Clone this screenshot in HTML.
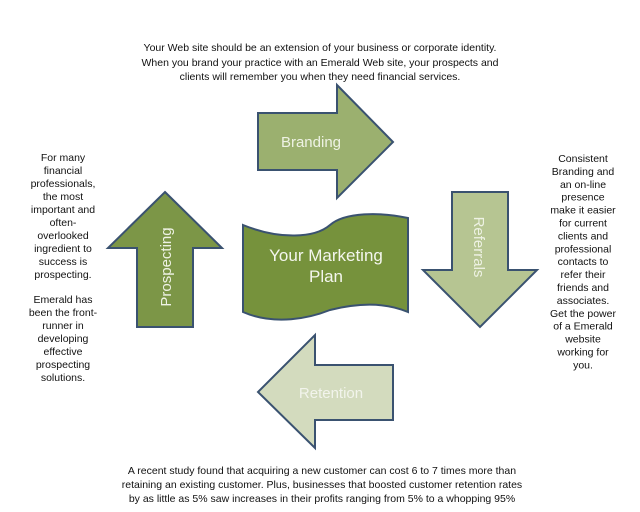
<!DOCTYPE html>
<html><head><meta charset="utf-8"><style>
html,body{margin:0;padding:0;background:#fff;}
svg{display:block;font-family:"Liberation Sans",Arial,sans-serif;}
</style></head><body>
<svg width="640" height="512" viewBox="0 0 640 512" xmlns="http://www.w3.org/2000/svg">
<g font-size="10.5" fill="#111" text-anchor="middle">
<text x="320" y="51">Your Web site should be an extension of your business or corporate identity.</text>
<text x="320" y="66">When you brand your practice with an Emerald Web site, your prospects and</text>
<text x="320" y="80">clients will remember you when they need financial services.</text>
</g>
<g font-size="10.5" fill="#111" text-anchor="middle">
<text x="63" y="161">For many</text>
<text x="63" y="174">financial</text>
<text x="63" y="187">professionals,</text>
<text x="63" y="200">the most</text>
<text x="63" y="213">important and</text>
<text x="63" y="226">often-</text>
<text x="63" y="239">overlooked</text>
<text x="63" y="252">ingredient to</text>
<text x="63" y="265">success is</text>
<text x="63" y="278">prospecting.</text>
<text x="63" y="303">Emerald has</text>
<text x="63" y="316">been the front-</text>
<text x="63" y="329">runner in</text>
<text x="63" y="342">developing</text>
<text x="63" y="355">effective</text>
<text x="63" y="368">prospecting</text>
<text x="63" y="381">solutions.</text>
</g>
<g font-size="10.5" fill="#111" text-anchor="middle">
<text x="583" y="162">Consistent</text>
<text x="583" y="174.9">Branding and</text>
<text x="583" y="187.8">an on-line</text>
<text x="583" y="200.7">presence</text>
<text x="583" y="213.6">make it easier</text>
<text x="583" y="226.5">for current</text>
<text x="583" y="239.4">clients and</text>
<text x="583" y="252.3">professional</text>
<text x="583" y="265.2">contacts to</text>
<text x="583" y="278.1">refer their</text>
<text x="583" y="291">friends and</text>
<text x="583" y="303.9">associates.</text>
<text x="583" y="316.8">Get the power</text>
<text x="583" y="329.7">of a Emerald</text>
<text x="583" y="342.6">website</text>
<text x="583" y="355.5">working for</text>
<text x="583" y="368.4">you.</text>
</g>
<g font-size="10.5" fill="#111" text-anchor="middle">
<text x="322" y="474">A recent study found that acquiring a new customer can cost 6 to 7 times more than</text>
<text x="322" y="488">retaining an existing customer. Plus, businesses that boosted customer retention rates</text>
<text x="322" y="502">by as little as 5% saw increases in their profits ranging from 5% to a whopping 95%</text>
</g>
<g stroke="#3a5270" stroke-width="2" stroke-linejoin="miter">
<polygon points="258,113 337,113 337,85 393,142 337,198 337,170 258,170" fill="#9bb06f"/>
<polygon points="452,192 508,192 508,270 537,270 480,327 423,270 452,270" fill="#b6c592"/>
<polygon points="393,365 315,365 315,335 258,392 315,448 315,420 393,420" fill="#d3dbbe"/>
<polygon points="165,192 222,248 193,248 193,327 137,327 137,248 108,248" fill="#7c9647"/>
<path d="M243,225 C280,240 315,238 330,225 C345,212 380,212 408,218 L408,312 C380,300 350,305 330,310 C310,318 275,326 243,312 Z" fill="#76923c"/>
</g>
<g fill="#eef2e4" text-anchor="middle" font-size="15">
<text x="311" y="147">Branding</text>
<text x="331" y="398" fill="#f2f4ec">Retention</text>
<text transform="translate(171,267) rotate(-90)">Prospecting</text>
<text transform="translate(474,247) rotate(90)">Referrals</text>
</g>
<g fill="#f4f6ee" text-anchor="middle" font-size="17">
<text x="326" y="261">Your Marketing</text>
<text x="326" y="282">Plan</text>
</g>
</svg>
</body></html>
